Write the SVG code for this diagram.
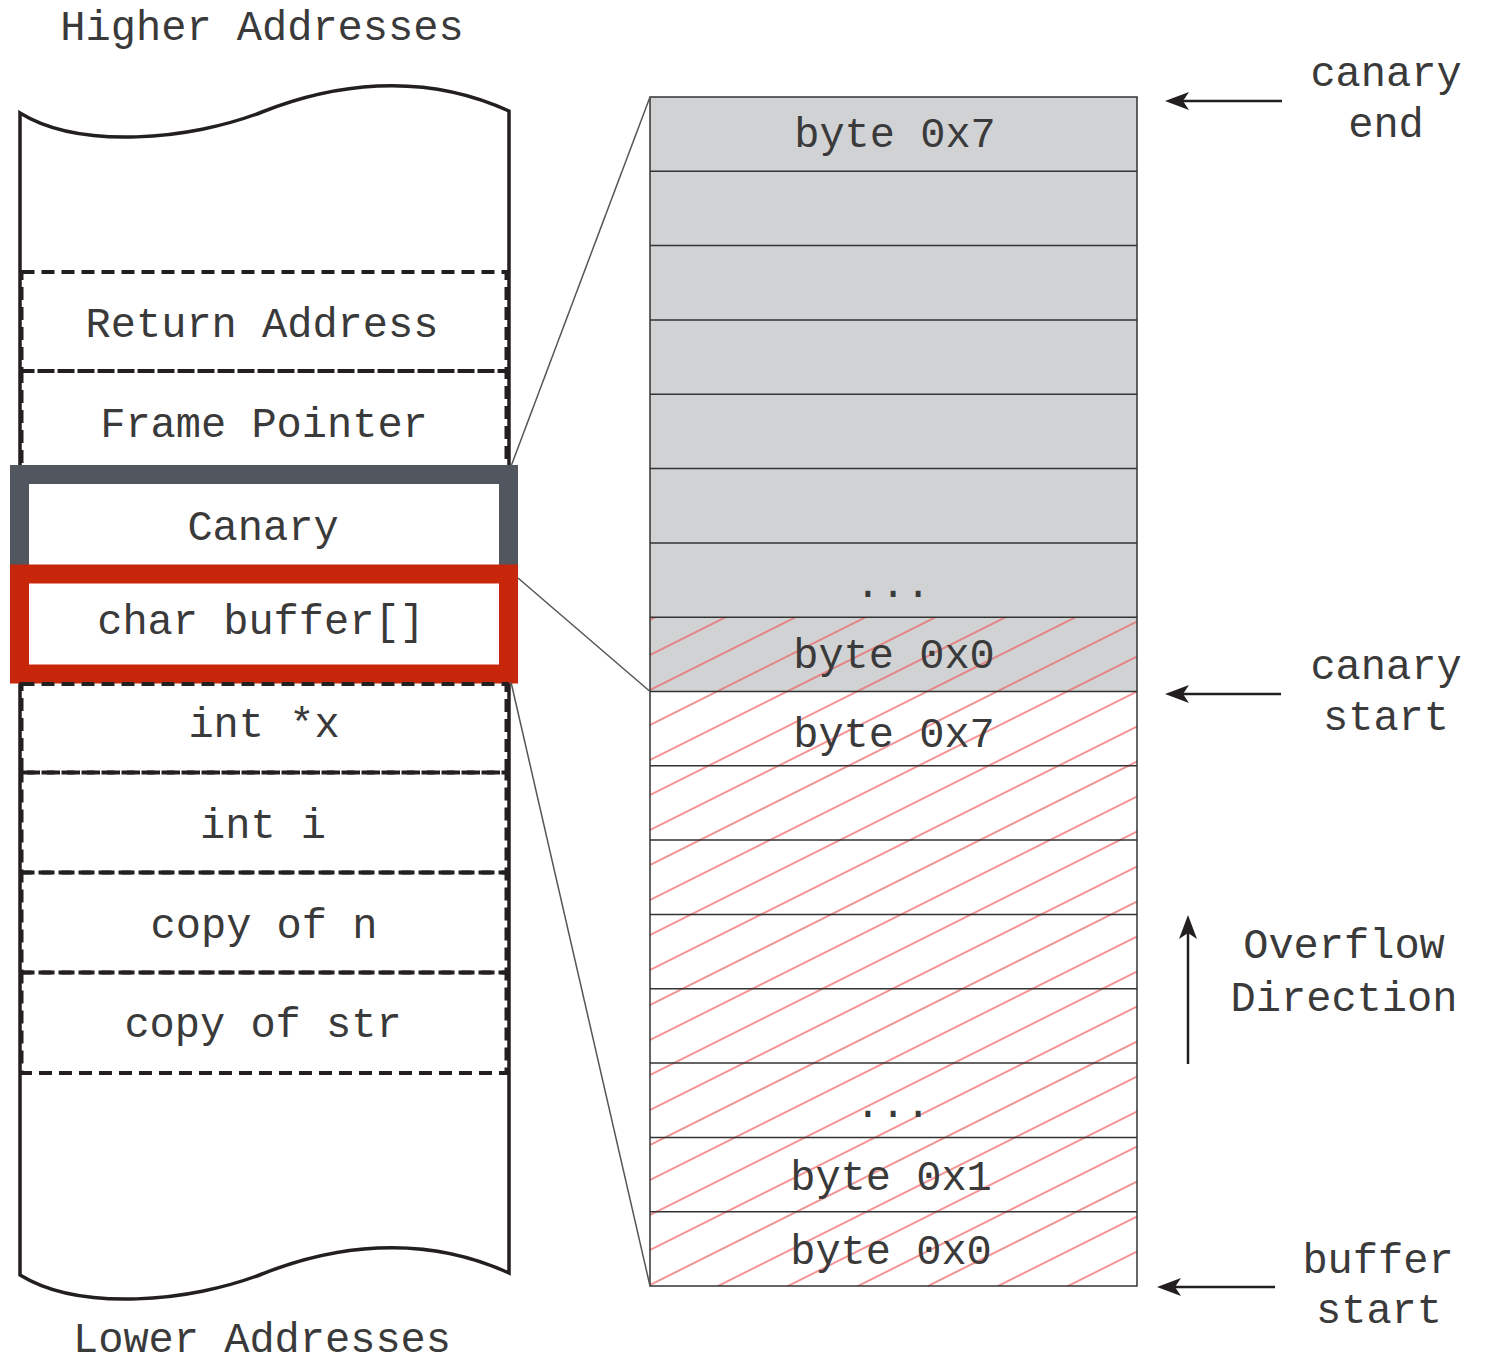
<svg xmlns="http://www.w3.org/2000/svg" width="1490" height="1367" viewBox="0 0 1490 1367">
  <style>
    text { font-family: "Liberation Mono", "Courier New", monospace; font-size: 42px; fill: #3a3a3a; text-anchor: middle; }
    .wall { fill: none; stroke: #231f20; stroke-width: 3.5; }
    .cell { fill: none; stroke: #231f20; stroke-width: 4; stroke-dasharray: 13 7; }
    .row { fill: none; stroke: #333; stroke-width: 1.5; }
    .link { fill: none; stroke: #555; stroke-width: 1.5; }
    .arrow { fill: none; stroke: #231f20; stroke-width: 2.5; marker-end: url(#head); }
  </style>
  <defs>
    <marker id="head" markerUnits="userSpaceOnUse" viewBox="0 0 24 18" markerWidth="24" markerHeight="18" refX="14" refY="9" orient="auto">
      <path d="M24,9 L0,0 L6,9 L0,18 Z" fill="#231f20"/>
    </marker>
    <pattern id="hatch" patternUnits="userSpaceOnUse" width="20" height="31.305" patternTransform="rotate(-26.565) translate(0 -15.65)">
      <line x1="0" y1="15.65" x2="20" y2="15.65" stroke="#ee5555" stroke-width="1.25"/>
    </pattern>
  </defs>
  <rect width="1490" height="1367" fill="#fff"/>

  <text x="262" y="40">Higher Addresses</text>
  <text x="262" y="1352">Lower Addresses</text>

  <!-- stack column with torn top and bottom edges -->
  <g id="stack">
    <path class="wall" d="M20,113 C80,150 190,140 262,112 C330,85 420,70 509,111 L509,1273 C420,1232 330,1247 262,1274 C190,1302 80,1312 20,1275 Z"/>
  </g>

  <g id="return-address">
    <rect class="cell" x="21.5" y="272" width="485" height="99"/>
    <text x="262" y="337">Return Address</text>
  </g>
  <g id="frame-pointer">
    <rect class="cell" x="21.5" y="371" width="485" height="101"/>
    <text x="264" y="437">Frame Pointer</text>
  </g>
  <g id="canary">
    <rect x="19.5" y="474.5" width="489" height="100" fill="#fff" stroke="#52565e" stroke-width="19"/>
    <text x="263" y="539.5">Canary</text>
  </g>
  <g id="char-buffer">
    <rect x="19.5" y="574" width="489" height="100" fill="#fff" stroke="#c8260a" stroke-width="19"/>
    <text x="261" y="634">char buffer[]</text>
  </g>
  <g id="int-x">
    <rect class="cell" x="21.5" y="684" width="485" height="88.5"/>
    <text x="264" y="737">int *x</text>
  </g>
  <g id="int-i">
    <rect class="cell" x="21.5" y="772.5" width="485" height="100"/>
    <text x="263" y="838">int i</text>
  </g>
  <g id="copy-n">
    <rect class="cell" x="21.5" y="872.5" width="485" height="100"/>
    <text x="264" y="938">copy of n</text>
  </g>
  <g id="copy-str">
    <rect class="cell" x="21.5" y="972.5" width="485" height="100.5"/>
    <text x="263" y="1037">copy of str</text>
  </g>

  <!-- expanded view of canary and buffer bytes -->
  <g id="byte-column">
    <rect x="650" y="97" width="487" height="594.5" fill="#d1d2d4"/>
    <rect x="650" y="617.2" width="487" height="668.8" fill="url(#hatch)"/>
    <rect class="row" x="650" y="97" width="487" height="1189"/>
    <path class="row" d="M650,171.3H1137 M650,245.6H1137 M650,319.9H1137 M650,394.3H1137 M650,468.6H1137 M650,542.9H1137 M650,617.2H1137 M650,691.5H1137 M650,765.8H1137 M650,840.1H1137 M650,914.4H1137 M650,988.7H1137 M650,1063.1H1137 M650,1137.4H1137 M650,1211.7H1137"/>
    <text x="895" y="147">byte 0x7</text>
    <text x="893" y="597">...</text>
    <text x="894" y="668">byte 0x0</text>
    <text x="894" y="747">byte 0x7</text>
    <text x="893" y="1117">...</text>
    <text x="891" y="1190">byte 0x1</text>
    <text x="891" y="1264">byte 0x0</text>
  </g>

  <g id="connectors">
    <line class="link" x1="511.5" y1="465" x2="650" y2="97"/>
    <line class="link" x1="518" y1="578" x2="650" y2="691.5"/>
    <line class="link" x1="511" y1="682" x2="650" y2="1286"/>
    <line class="arrow" x1="1282" y1="101" x2="1175" y2="101"/>
    <line class="arrow" x1="1281" y1="694" x2="1175" y2="694"/>
    <line class="arrow" x1="1275" y1="1287" x2="1167" y2="1287"/>
    <line class="arrow" x1="1188" y1="1064" x2="1188" y2="925"/>
  </g>

  <g id="labels">
    <text x="1386" y="86">canary</text>
    <text x="1386" y="137">end</text>
    <text x="1386" y="679">canary</text>
    <text x="1386" y="730">start</text>
    <text x="1344" y="958">Overflow</text>
    <text x="1344" y="1011">Direction</text>
    <text x="1378" y="1273">buffer</text>
    <text x="1379" y="1323">start</text>
  </g>
</svg>
